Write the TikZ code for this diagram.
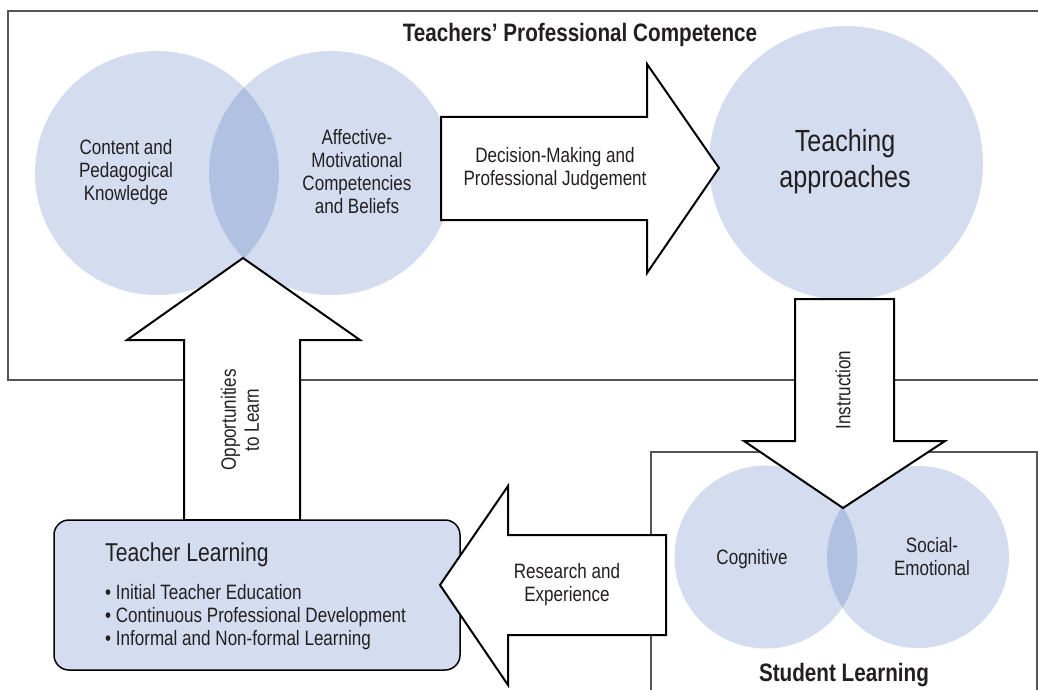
\documentclass[tikz,border=0pt]{standalone}
\usepackage{fontspec}
\setmainfont[FakeStretch=0.82]{Liberation Sans}
\usetikzlibrary{positioning}

\definecolor{vennblue}{HTML}{325DB3}
\definecolor{paleblue}{HTML}{D4DDEF}
\definecolor{framegray}{HTML}{555555}
\definecolor{inkgray}{HTML}{231F20}

\tikzset{
  venn/.style={circle,fill=vennblue,fill opacity=.21,text opacity=1,inner sep=0pt},
  blockarrow/.style={draw=black,fill=white,line width=2pt,line join=miter},
  frame/.style={draw=framegray,line width=1.5pt},
  txt/.style={align=center,text=inkgray,font=\fontsize{20.8}{23}\selectfont},
  heading/.style={text=inkgray,font=\fontsize{25.2}{28}\selectfont\bfseries}
}

\begin{document}
\begin{tikzpicture}[x=1pt,y=-1pt]

        \useasboundingbox (0,0) rectangle (1038,690);

        % the two frames
        \draw[frame] (1045,11) -- (8,11) -- (8,380) -- (1045,380);
        \draw[frame] (651,695) -- (651,452) -- (1037,452) -- (1037,695);

        \node[heading] (tpc) at (580,35) {Teachers’ Professional Competence};
        \node[heading] (sl)  at (844,675) {Student Learning};

        % circles
        \begin{scope}[every node/.style={venn}]
          \node[minimum size=244pt] (cpk)   at (157,173) {};
          \node[minimum size=244pt] (amc)   at (331,173) {};
          \node[minimum size=274pt] (teach) at (846,163) {};
          \node[minimum size=183pt] (cog)   at (766,557) {};
          \node[minimum size=182pt] (soc)   at (918,557) {};
        \end{scope}

        % big arrows
        \draw[blockarrow] (184,520) -- (184,340) -- (127,340) -- (243,258)
          -- (360,340) -- (300,340) -- (300,520) -- cycle;
        \draw[blockarrow] (441,117) -- (647,117) -- (647,64) -- (719,168)
          -- (647,273) -- (647,220) -- (441,220) -- cycle;
        \draw[blockarrow] (795,299) -- (795,441) -- (744,441) -- (843,508)
          -- (945,441) -- (894,441) -- (894,299) -- cycle;

        % teacher learning
        \node[draw=black,line width=1.5pt,fill=paleblue,rounded corners=15pt,
          minimum width=406pt,minimum height=150pt] (tl) at (257,595) {};
        \node[anchor=west,inner sep=0pt,text=inkgray,font=\fontsize{25.8}{28}\selectfont]
          (tl head) at (105,555) {Teacher Learning};
        \node[txt,anchor=north west,align=left,inner sep=0pt]
          (tl list) at (105,584) {\textbullet{} Initial Teacher Education\\
          \textbullet{} Continuous Professional Development\\
          \textbullet{} Informal and Non-formal Learning};

        \draw[blockarrow] (666,535) -- (508,535) -- (508,486) -- (440,585)
          -- (508,685) -- (508,635) -- (666,635) -- cycle;

        % labels
        \begin{scope}[every node/.style={txt}]
          \node (cpk text)   at (126,172) {Content and\\Pedagogical\\Knowledge};
          \node (amc text)   at (357,172) {Affective-\\Motivational\\Competencies\\and Beliefs};
          \node (dm text)    at (555,169) {Decision-Making and\\Professional Judgement};
          \node[rotate=90] (otl text) at (240,420) {Opportunities\\to Learn};
          \node[rotate=90] (ins text) at (843,390) {Instruction};
          \node (re text)    at (567,585) {Research and\\Experience};
          \node (cog text)   at (752,559) {Cognitive};
          \node (soc text)   at (932,557) {Social-\\Emotional};
        \end{scope}
        \node[align=center,text=inkgray,font=\fontsize{30.6}{36}\selectfont]
          (teach text) at (845,162) {Teaching\\approaches};

      \end{tikzpicture}
\end{document}
